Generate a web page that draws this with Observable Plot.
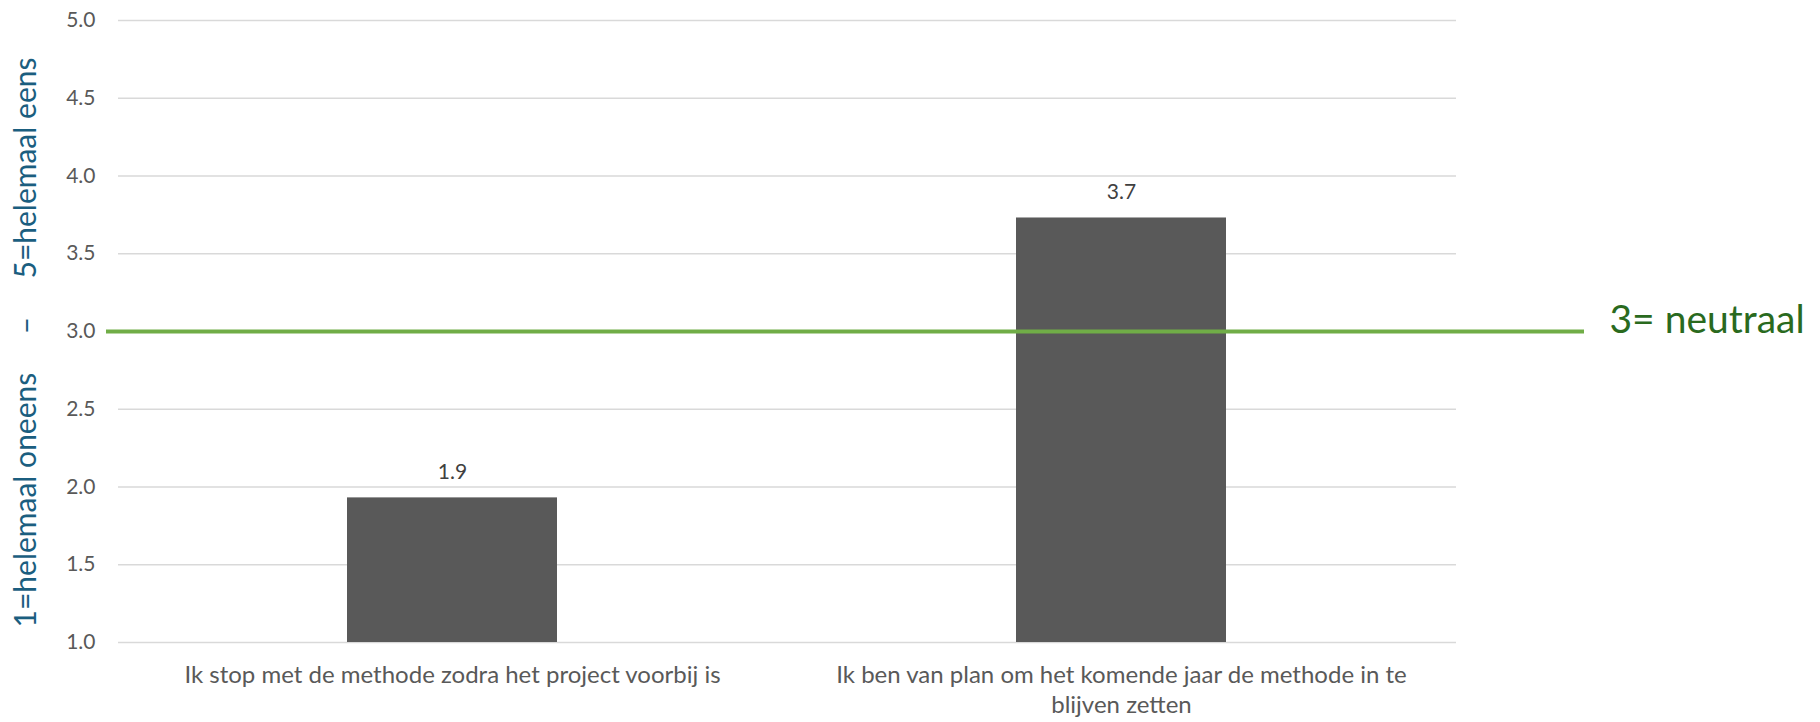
<!DOCTYPE html>
<html><head><meta charset="utf-8">
<script src="https://cdn.jsdelivr.net/npm/d3@7"></script>
<script src="https://cdn.jsdelivr.net/npm/@observablehq/plot@0.6"></script>
<style>body{margin:0;background:#fff;} svg{display:block}</style>
</head><body><div id="chart"></div>
<script>
const categories = [
  "Ik stop met de methode zodra het project voorbij is",
  "Ik ben van plan om het komende jaar de methode in te blijven zetten"
];
const tickLabels = [
  "Ik stop met de methode zodra het project voorbij is",
  "Ik ben van plan om het komende jaar de methode in te\nblijven zetten"
];
const values = [1.93, 3.73];
const yTicks = [1.0, 1.5, 2.0, 2.5, 3.0, 3.5, 4.0, 4.5, 5.0];
const neutralValue = 3;
const neutralLabel = "3= neutraal";
const yTitle = "1=helemaal oneens\u00a0\u00a0\u00a0\u00a0 –\u00a0\u00a0\u00a0\u00a0 5=helemaal eens";

const data = categories.map((c, i) => ({category: c, value: values[i]}));
const fmt = d3.format(".1f");

const chart = Plot.plot({
  width: 1820,
  height: 722,
  marginLeft: 118,
  marginRight: 364,
  marginTop: 20,
  marginBottom: 80,
  style: {fontFamily: "Lato, sans-serif", background: "white"},
  x: {domain: categories, paddingInner: 0.686, paddingOuter: 0.343, label: null},
  y: {domain: [1, 5], label: null},
  marks: [
    Plot.gridY(yTicks, {stroke: "#d9d9d9", strokeOpacity: 1, strokeWidth: 1.5}),
    Plot.axisY(yTicks, {tickSize: 0, tickPadding: 23, tickFormat: fmt, fontSize: 21, fill: "#595959", label: null}),
    Plot.axisX({tickSize: 0, tickPadding: 19, tickFormat: d => tickLabels[categories.indexOf(d)], fontSize: 24, fill: "#595959", label: null, lineHeight: 1.25}),
    Plot.barY(data, {x: "category", y1: 1, y2: "value", fill: "#595959"}),
    Plot.ruleY([neutralValue], {stroke: "#70ad47", strokeWidth: 4, insetLeft: -12, insetRight: -128}),
    Plot.text([neutralValue], {y: d => d, text: () => neutralLabel, frameAnchor: "right", textAnchor: "start", dx: 153, dy: 1, lineAnchor: "bottom", fontSize: 39, fill: "#2a6a1e"}),
    Plot.text(data, {x: "category", y: "value", text: d => fmt(d.value), dy: -19, lineAnchor: "bottom", fontSize: 21, fill: "#404040"}),
    Plot.text([yTitle], {text: d => d, frameAnchor: "left", textAnchor: "middle", rotate: -90, dx: -92, dy: 11, fontSize: 30, fill: "#1b5e7f"})
  ]
});
document.getElementById("chart").appendChild(chart);
</script>
</body></html>
